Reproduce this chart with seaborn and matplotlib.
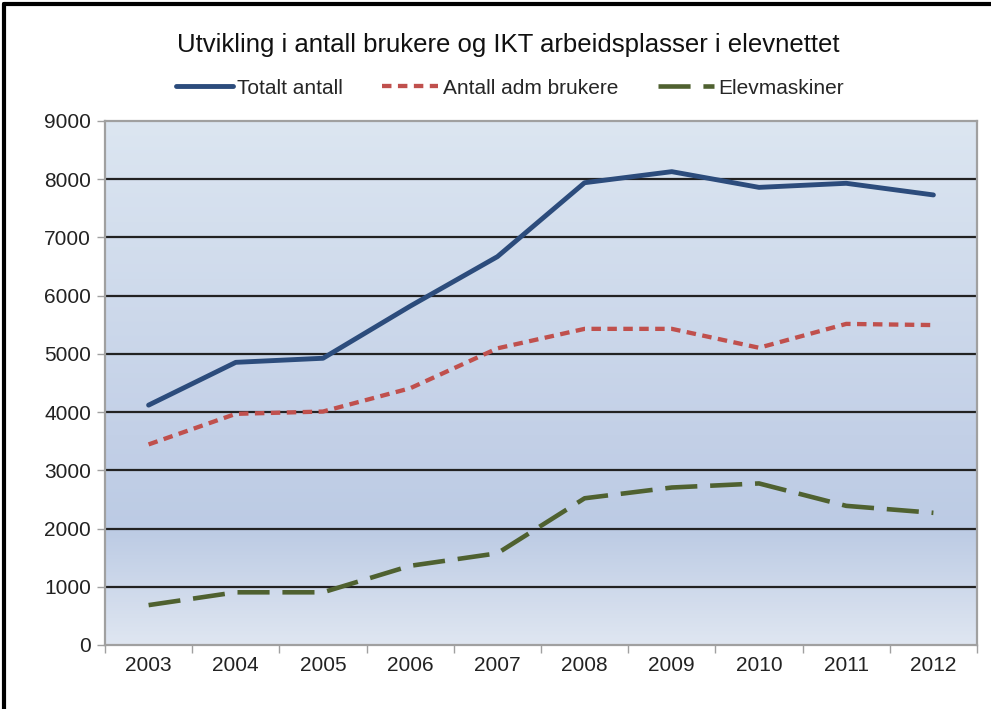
import numpy as np
import pandas as pd
import matplotlib
matplotlib.use("Agg")
import matplotlib.pyplot as plt
import seaborn as sns
from matplotlib.colors import LinearSegmentedColormap
from matplotlib.lines import Line2D

years = ["2003", "2004", "2005", "2006", "2007", "2008", "2009", "2010", "2011", "2012"]
totalt = [4120, 4855, 4925, 5820, 6670, 7940, 8130, 7860, 7930, 7730]
adm = [3445, 3970, 4010, 4410, 5095, 5430, 5430, 5105, 5515, 5495]
elev = [685, 905, 905, 1360, 1575, 2520, 2705, 2775, 2390, 2270]

title = "Utvikling i antall brukere og IKT arbeidsplasser i elevnettet"
labels = ["Totalt antall", "Antall adm brukere", "Elevmaskiner"]

sns.set_theme(style="white")
plt.rcParams["font.family"] = ["Liberation Sans", "DejaVu Sans"]

fig = plt.figure(figsize=(9.91, 7.09), dpi=100)
ax = fig.add_axes([105 / 991, 1 - 645 / 709, 872 / 991, 524 / 709])

# gradient background like the Excel plot area
cmap = LinearSegmentedColormap.from_list(
    "bg", [(0, "#dfe6f1"), (0.22, "#bccbe4"), (0.4, "#c3d0e7"), (1, "#dce6f1")])
ax.imshow(np.linspace(0, 1, 256).reshape(-1, 1), aspect="auto", cmap=cmap,
          extent=(-0.5, 9.5, 0, 9000), origin="lower", zorder=0)

df = pd.DataFrame({"year": years, "tot": totalt, "adm": adm, "elev": elev})
sns.lineplot(data=df, x="year", y="tot", ax=ax, color="#2c4c7c", linewidth=3.5,
             label=labels[0], sort=False, zorder=4)
sns.lineplot(data=df, x="year", y="adm", ax=ax, color="#c0504d", linewidth=3.1,
             linestyle=(0, (2.2, 1.5)), label=labels[1], sort=False, zorder=3)
sns.lineplot(data=df, x="year", y="elev", ax=ax, color="#4f6130", linewidth=3.3,
             linestyle=(0, (7, 2.8)), label=labels[2], sort=False, zorder=3)

ax.set_xlim(-0.5, 9.5)
ax.set_ylim(0, 9000)
ax.set_yticks(range(0, 9001, 1000))
ax.set_xticks(range(10))
ax.set_xticklabels(years)
ax.set_xticks(np.arange(-0.5, 10, 1), minor=True)
ax.tick_params(axis="x", which="major", length=0, pad=8, labelsize=15, labelcolor="#222222")
ax.tick_params(axis="x", which="minor", bottom=True, length=6, width=1, color="#a0a0a0")
ax.tick_params(axis="y", left=True, length=6, width=1, color="#a0a0a0", pad=4,
               labelsize=15, labelcolor="#222222")
for y in range(1000, 9000, 1000):
    ax.axhline(y, color="#222222", linewidth=1.6, zorder=2)
for s in ax.spines.values():
    s.set_color("#a0a0a0")
    s.set_linewidth(1.6)
ax.set_xlabel("")
ax.set_ylabel("")

ax.legend(loc="center", bbox_to_anchor=(510 / 991, 1 - 88 / 709),
          bbox_transform=fig.transFigure, ncol=3, frameon=False,
          fontsize=15, handlelength=2.7, handletextpad=0.2, columnspacing=1.9)
fig.text(508 / 991, 1 - 45 / 709, title, ha="center", va="center", fontsize=18.5,
         color="#111111")

# outer frame (visible on top and left)
fig.add_artist(Line2D([4 / 991, 4 / 991], [0, 1 - 4 / 709], color="black", linewidth=3,
                      transform=fig.transFigure))
fig.add_artist(Line2D([4 / 991, 1], [1 - 4 / 709, 1 - 4 / 709], color="black", linewidth=3,
                      transform=fig.transFigure))

fig.savefig("out.png", dpi=100)
